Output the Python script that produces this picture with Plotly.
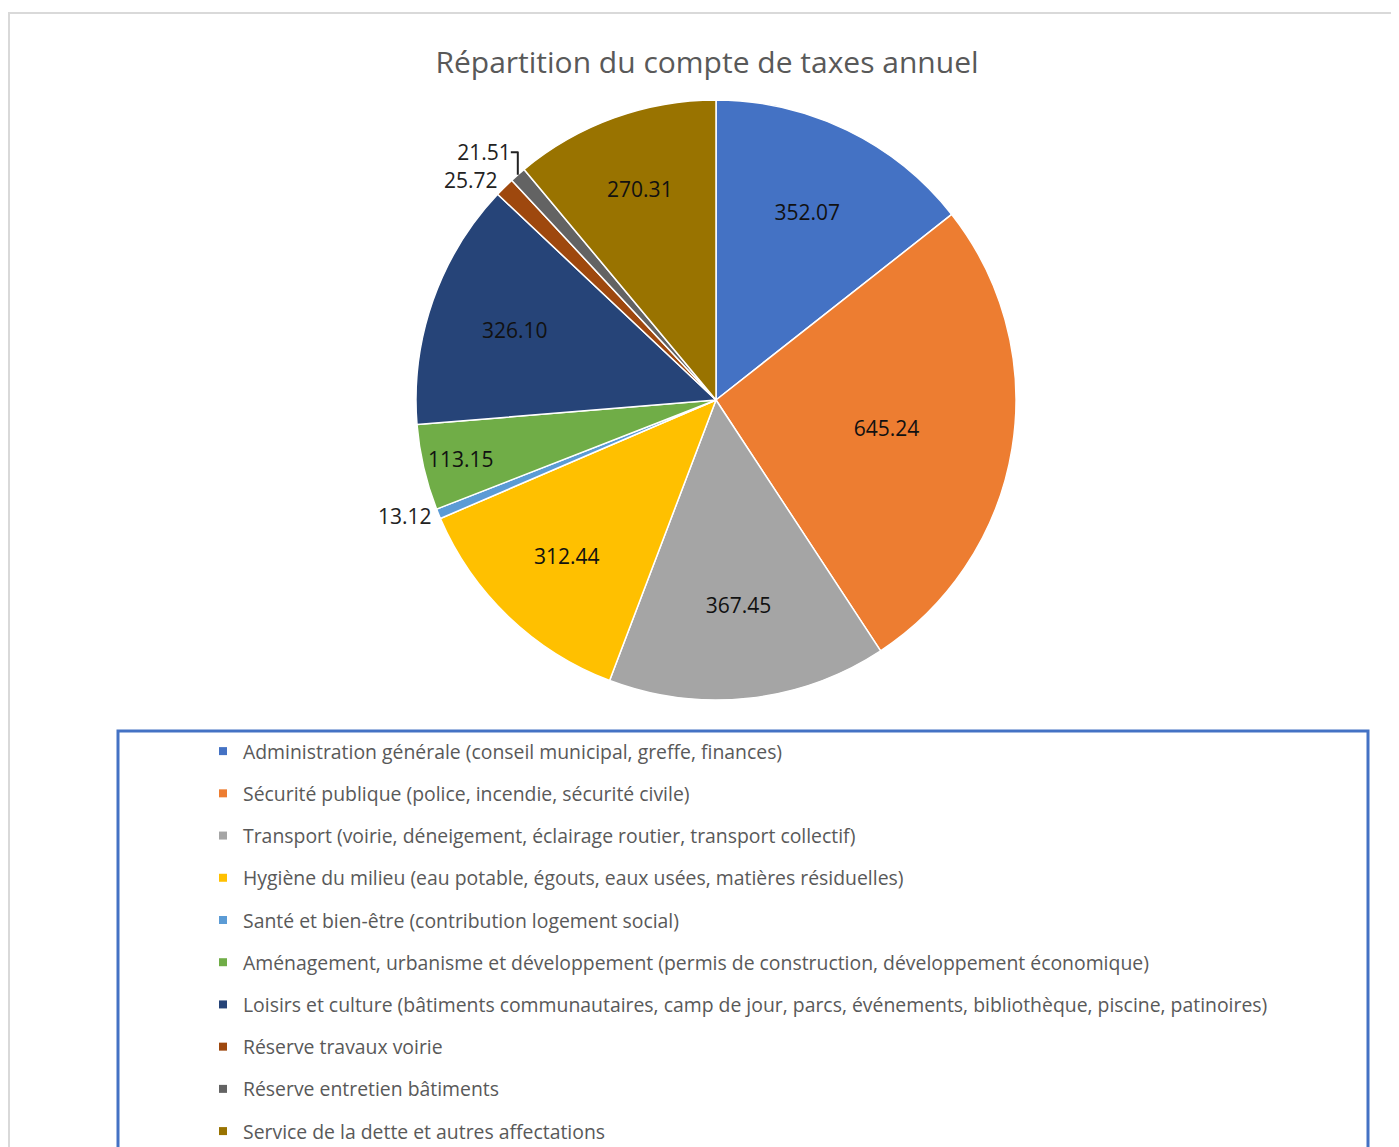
import plotly.graph_objects as go

categories = [
    "Administration générale (conseil municipal, greffe, finances)",
    "Sécurité publique (police, incendie, sécurité civile)",
    "Transport (voirie, déneigement, éclairage routier, transport collectif)",
    "Hygiène du milieu (eau potable, égouts, eaux usées, matières résiduelles)",
    "Santé et bien-être (contribution logement social)",
    "Aménagement, urbanisme et développement (permis de construction, développement économique)",
    "Loisirs et culture (bâtiments communautaires, camp de jour, parcs, événements, bibliothèque, piscine, patinoires)",
    "Réserve travaux voirie",
    "Réserve entretien bâtiments",
    "Service de la dette et autres affectations",
]
values = [352.07, 645.24, 367.45, 312.44, 13.12, 113.15, 326.10, 25.72, 21.51, 270.31]
colors = ["#4472C4", "#ED7D31", "#A5A5A5", "#FFC000", "#5B9BD5",
          "#70AD47", "#264478", "#9E480E", "#636363", "#997300"]
title_text = "Répartition du compte de taxes annuel"

FONT = "Open Sans, sans-serif"
OFF = 8  # page body margin
W, H = 1399 - OFF, 1147 - OFF

def px(x):
    return (x - OFF) / W

def py(y):
    return 1 - (y - OFF) / H

cx, cy, r = 716, 400, 300
textpos = ["outside" if v < 30 else "inside" for v in values]

fig = go.Figure()
fig.add_trace(go.Pie(
    labels=categories,
    values=values,
    sort=False,
    direction="clockwise",
    rotation=0,
    marker=dict(colors=colors, line=dict(color="white", width=1.5)),
    texttemplate="%{value:.2f}",
    textposition=textpos,
    insidetextorientation="horizontal",
    textfont=dict(family=FONT, size=21, color="#111111"),
    outsidetextfont=dict(family=FONT, size=21, color="#222222"),
    domain=dict(x=[px(cx - r), px(cx + r)], y=[py(cy + r), py(cy - r)]),
    showlegend=False,
    hoverinfo="label+value",
))

for cat, col in zip(categories, colors):
    fig.add_trace(go.Scatter(
        x=[None], y=[None], mode="markers", name=cat,
        marker=dict(symbol="square", size=8, color=col),
        legendgroup=cat, showlegend=True,
    ))

fig.update_layout(
    width=W, height=H,
    margin=dict(l=0, r=0, t=0, b=0, autoexpand=False),
    paper_bgcolor="white", plot_bgcolor="white",
    xaxis=dict(visible=False), yaxis=dict(visible=False),
    title=dict(text=title_text, x=px(707), xanchor="center", y=py(62), yanchor="middle",
               font=dict(family=FONT, size=30, color="#595959")),
    legend=dict(
        x=px(203), xanchor="left", y=py(732), yanchor="top",
        font=dict(family=FONT, size=19.4, color="#595959"),
        tracegroupgap=14, bgcolor="rgba(0,0,0,0)", itemclick=False,
    ),
    shapes=[
        dict(type="rect", xref="paper", yref="paper", x0=px(9), x1=px(1420), y0=py(1170), y1=py(13),
             line=dict(color="#D9D9D9", width=2), layer="below"),
        dict(type="rect", xref="paper", yref="paper", x0=px(118), x1=px(1368), y0=py(1170), y1=py(731),
             line=dict(color="#4472C4", width=3), layer="above"),
    ],
)

fig.write_html("out.html")
